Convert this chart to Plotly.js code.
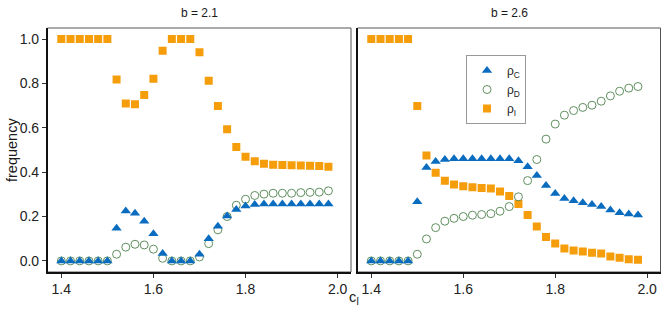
<!DOCTYPE html>
<html>
<head>
<meta charset="utf-8">
<script src="https://cdn.plot.ly/plotly-3.0.1.min.js"></script>
<style>html,body{margin:0;padding:0;background:#fff;}#chart{width:667px;height:314px;}</style>
</head>
<body>
<div id="chart"></div>
<script>
const cI = [1.40,1.42,1.44,1.46,1.48,1.50,1.52,1.54,1.56,1.58,1.60,1.62,1.64,1.66,1.68,1.70,1.72,1.74,1.76,1.78,1.80,1.82,1.84,1.86,1.88,1.90,1.92,1.94,1.96,1.98];

// b = 2.1
const rhoC_21 = [0,0,0,0,0,0,0.147,0.225,0.215,0.179,0.123,0.033,0,0,0,0.030,0.100,0.156,0.203,0.232,0.247,0.254,0.256,0.256,0.256,0.256,0.256,0.256,0.256,0.256];
const rhoD_21 = [0,0,0,0,0,0,0.030,0.062,0.075,0.072,0.053,0.012,0,0,0,0.018,0.078,0.140,0.200,0.251,0.278,0.295,0.301,0.305,0.305,0.305,0.308,0.309,0.310,0.316];
const rhoI_21 = [1,1,1,1,1,1,0.818,0.710,0.706,0.748,0.821,0.947,1,1,1,0.941,0.812,0.698,0.593,0.514,0.470,0.449,0.438,0.434,0.432,0.431,0.430,0.429,0.428,0.425];

// b = 2.6
const rhoC_26 = [0,0,0,0,0,0.267,0.421,0.448,0.457,0.460,0.460,0.460,0.460,0.460,0.460,0.460,0.451,0.425,0.385,0.340,0.304,0.281,0.271,0.262,0.254,0.245,0.229,0.217,0.211,0.207];
const rhoD_26 = [0,0,0,0,0,0.030,0.099,0.150,0.179,0.192,0.200,0.206,0.209,0.213,0.224,0.245,0.289,0.362,0.457,0.549,0.617,0.657,0.678,0.692,0.702,0.720,0.744,0.765,0.779,0.786];
const rhoI_26 = [1,1,1,1,1,0.698,0.475,0.397,0.361,0.344,0.337,0.332,0.329,0.326,0.313,0.293,0.257,0.207,0.155,0.108,0.078,0.056,0.047,0.042,0.037,0.033,0.020,0.014,0.008,0.005];

const panelTitles = ["b = 2.1", "b = 2.6"];
const seriesNames = ["ρ<sub>C</sub>", "ρ<sub>D</sub>", "ρ<sub>I</sub>"];
const xTicks = [1.4, 1.6, 1.8, 2.0];
const yTicks = [0, 0.2, 0.4, 0.6, 0.8, 1.0];

const colC = "#0a6cbf", colD = "#5f8f5f", colI = "#f59d0b";

function mk(y, name, xa, ya, sym, col, size, show) {
  return {
    x: cI, y: y, name: name, type: "scatter", mode: "markers",
    xaxis: xa, yaxis: ya, showlegend: show, legendgroup: name,
    marker: sym === "circle-open"
      ? {symbol: sym, size: size, color: col, line: {width: 1, color: col}}
      : {symbol: sym, size: size, color: col, line: {width: 0}}
  };
}

const traces = [
  mk(rhoI_21, seriesNames[2], "x", "y", "square", colI, 8, false),
  mk(rhoD_21, seriesNames[1], "x", "y", "circle-open", colD, 8, false),
  mk(rhoC_21, seriesNames[0], "x", "y", "triangle-up", colC, 9, false),
  mk(rhoI_26, seriesNames[2], "x2", "y2", "square", colI, 8, true),
  mk(rhoD_26, seriesNames[1], "x2", "y2", "circle-open", colD, 8, true),
  mk(rhoC_26, seriesNames[0], "x2", "y2", "triangle-up", colC, 9, true)
];

const fam = "Liberation Sans, Arial, sans-serif";
const xr = [1.37, 2.029];
const yr = [-0.05, 1.05];
const xbase = {
  range: xr, tickvals: xTicks, tickformat: ".1f", ticks: "outside", ticklen: 4,
  tickwidth: 1, tickcolor: "#333", showline: true, linecolor: "#111", linewidth: 1.6,
  showgrid: false, zeroline: false, tickfont: {family: fam, size: 14, color: "#222"}
};
const ybase = {
  range: yr, tickvals: yTicks, tickformat: ".1f", ticks: "outside", ticklen: 4,
  tickwidth: 1, tickcolor: "#333", showline: true, linecolor: "#111", linewidth: 1.6,
  showgrid: false, zeroline: false, tickfont: {family: fam, size: 14, color: "#222"}
};

const yDom = [1 - 272/314, 1 - 28/314];
const layout = {
  width: 667, height: 314,
  margin: {l: 0, r: 0, t: 0, b: 0},
  paper_bgcolor: "#fff", plot_bgcolor: "#fff",
  font: {family: fam, size: 12, color: "#1a1a1a"},
  showlegend: true,
  legend: {
    x: 466/667, y: 1 - 55/314, xanchor: "left", yanchor: "top",
    bordercolor: "#999", borderwidth: 1, bgcolor: "#fff",
    font: {family: fam, size: 12, color: "#222"},
    traceorder: "reversed", itemsizing: "trace", itemwidth: 30, tracegroupgap: 0
  },
  xaxis: Object.assign({}, xbase, {domain: [47.5/667, 351/667], anchor: "y"}),
  yaxis: Object.assign({}, ybase, {domain: yDom, anchor: "x"}),
  xaxis2: Object.assign({}, xbase, {domain: [357.5/667, 660.5/667], anchor: "y2"}),
  yaxis2: Object.assign({}, ybase, {domain: yDom, anchor: "x2", showticklabels: false, ticks: ""}),
  shapes: [
    {type: "rect", xref: "x domain", yref: "y domain", x0: 0, x1: 1, y0: 0, y1: 1, line: {color: "#555", width: 1}, layer: "below"},
    {type: "rect", xref: "x2 domain", yref: "y2 domain", x0: 0, x1: 1, y0: 0, y1: 1, line: {color: "#555", width: 1}, layer: "below"}
  ],
  annotations: [
    {text: panelTitles[0], xref: "paper", yref: "paper", x: (47.5+351)/2/667, y: 1 - 13/314, showarrow: false, xanchor: "center", yanchor: "middle", font: {family: fam, size: 12, color: "#1a1a1a"}},
    {text: panelTitles[1], xref: "paper", yref: "paper", x: (357.5+660.5)/2/667, y: 1 - 13/314, showarrow: false, xanchor: "center", yanchor: "middle", font: {family: fam, size: 12, color: "#1a1a1a"}},
    {text: "c<sub>I</sub>", xref: "paper", yref: "paper", x: 354/667, y: 1 - 298/314, showarrow: false, xanchor: "center", yanchor: "middle", font: {family: fam, size: 14.5, color: "#1a1a1a"}},
    {text: "frequency", xref: "paper", yref: "paper", x: 12/667, y: 1 - 150/314, showarrow: false, textangle: -90, xanchor: "center", yanchor: "middle", font: {family: fam, size: 14.5, color: "#1a1a1a"}}
  ]
};

Plotly.newPlot("chart", traces, layout, {displayModeBar: false, staticPlot: true});
</script>
</body>
</html>
